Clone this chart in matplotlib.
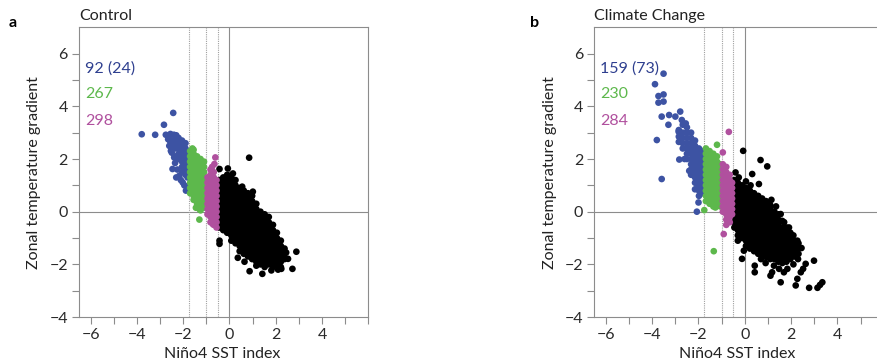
import matplotlib
matplotlib.use('Agg')
import matplotlib.pyplot as plt

plt.rcParams['font.family'] = ['Lato', 'DejaVu Sans']

# colours
blue = '#3d53a3'
green = '#5db84c'
purple = '#b0509e'
black = '#000000'

# ---- panel a (Control): points, by column (x: [y...]) plus loose points
ctrl_black_cols = {
    -0.44: [1.2, 1.0, 0.8, 0.6, 0.4, 0.2, 0.0, -0.2, -0.4, -0.6],
    -0.27: [1.3, 1.1, 0.9, 0.7, 0.5, 0.3, 0.1, -0.1, -0.3, -0.5, -0.7],
    -0.10: [1.4, 1.2, 1.0, 0.8, 0.6, 0.4, 0.2, 0.0, -0.2, -0.4, -0.6, -0.8],
    0.08: [1.3, 1.1, 0.9, 0.7, 0.5, 0.3, 0.1, -0.1, -0.3, -0.5, -0.7, -0.9, -1.1],
    0.26: [1.2, 1.0, 0.8, 0.6, 0.4, 0.2, 0.0, -0.2, -0.4, -0.6, -0.8, -1.0, -1.2],
    0.44: [0.9, 0.7, 0.5, 0.3, 0.1, -0.1, -0.3, -0.5, -0.7, -0.9, -1.1, -1.3, -1.5],
    0.62: [0.8, 0.6, 0.4, 0.2, 0.0, -0.2, -0.4, -0.6, -0.8, -1.0, -1.2, -1.4, -1.6],
    0.80: [0.7, 0.5, 0.3, 0.1, -0.1, -0.3, -0.5, -0.7, -0.9, -1.1, -1.3, -1.5, -1.7],
    0.98: [0.6, 0.4, 0.2, 0.0, -0.2, -0.4, -0.6, -0.8, -1.0, -1.2, -1.4, -1.6, -1.8],
    1.16: [0.3, 0.1, -0.1, -0.3, -0.5, -0.7, -0.9, -1.1, -1.3, -1.5, -1.7, -1.9],
    1.34: [0.0, -0.2, -0.4, -0.6, -0.8, -1.0, -1.2, -1.4, -1.6, -1.8, -2.0],
    1.52: [-0.1, -0.3, -0.5, -0.7, -0.9, -1.1, -1.3, -1.5, -1.7, -1.9, -2.1],
    1.70: [-0.2, -0.4, -0.6, -0.8, -1.0, -1.2, -1.4, -1.6, -1.8, -2.0],
    1.88: [-0.5, -0.7, -0.9, -1.1, -1.3, -1.5, -1.7, -1.9, -2.1],
    2.05: [-0.8, -1.0, -1.2, -1.4, -1.6, -1.8, -2.0],
    2.22: [-1.1, -1.3, -1.5, -1.7, -1.9, -2.1],
    2.38: [-1.4, -1.6, -1.8],
}
ctrl_black_extra = [(-0.43, 1.62), (-0.07, 1.64), (0.15, 1.45), (0.85, 2.05), (1.01, 0.76),
                    (0.55, 0.95), (-0.43, -1.1), (-0.43, -1.22), (2.89, -1.52), (2.72, -2.17),
                    (2.24, -2.17), (2.1, -2.2), (1.81, -2.23), (1.42, -2.36), (0.87, -2.26),
                    (0.36, -1.75), (0.65, -1.9), (1.16, -2.05), (2.53, -1.79), (2.45, -1.55)]

ctrl_blue_cols = {
    -2.20: [2.8, 2.6, 2.4, 2.2, 2.0],
    -2.05: [2.7, 2.5, 2.3, 2.1, 1.9, 1.7, 1.5],
    -1.90: [2.6, 2.4, 2.2, 2.0, 1.8, 1.6, 1.4],
    -1.80: [2.3, 2.1, 1.9, 1.7],
}
ctrl_blue_extra = [(-3.79, 2.94), (-3.21, 2.92), (-2.43, 3.75), (-2.83, 3.30), (-2.75, 2.92),
                   (-2.55, 2.95), (-2.40, 2.92), (-2.57, 2.69), (-2.35, 2.75), (-2.53, 2.31),
                   (-2.39, 2.06), (-2.46, 1.62), (-2.17, 1.36), (-2.02, 1.11), (-1.88, 0.80),
                   (-2.30, 2.10), (-2.40, 2.50), (-2.30, 2.90), (-2.25, 1.60), (-2.30, 1.30),
                   (-2.10, 1.20), (-1.95, 1.00), (-2.45, 2.70), (-2.62, 2.85), (-2.49, 2.24),
                   (-1.81, 1.30), (-1.78, 0.98), (-2.65, 2.75), (-2.50, 2.55), (-2.35, 2.40),
                   (-2.60, 2.50), (-2.28, 2.60), (-2.35, 1.85)]

ctrl_green_cols = {
    -1.70: [2.3, 2.1, 1.9, 1.7, 1.5, 1.3, 1.1, 0.9, 0.7],
    -1.55: [2.35, 2.2, 2.0, 1.8, 1.6, 1.4, 1.2, 1.0, 0.8, 0.6, 0.45],
    -1.40: [2.1, 1.9, 1.7, 1.5, 1.3, 1.1, 0.9, 0.7, 0.5, 0.3],
    -1.25: [2.0, 1.8, 1.6, 1.4, 1.2, 1.0, 0.8, 0.6, 0.4, 0.2, 0.05],
    -1.10: [1.9, 1.7, 1.5, 1.3, 1.1, 0.9, 0.7, 0.5, 0.3, 0.15],
}
ctrl_green_extra = [(-1.3, -0.3), (-1.45, 0.15), (-1.6, 2.4), (-1.3, 0.1), (-1.01, 0.16)]

ctrl_purple_cols = {
    -0.95: [1.3, 1.1, 0.9, 0.7, 0.5, 0.3, 0.1, -0.1],
    -0.82: [1.6, 1.4, 1.2, 1.0, 0.8, 0.6, 0.4, 0.2, 0.0, -0.2, -0.4],
    -0.68: [1.5, 1.3, 1.1, 0.9, 0.7, 0.5, 0.3, 0.1, -0.1, -0.3, -0.5],
    -0.56: [1.2, 1.0, 0.8, 0.6, 0.4, 0.2, 0.0, -0.2, -0.4, -0.6],
}
ctrl_purple_extra = [(-0.61, 2.06), (-0.65, 1.81), (-0.75, 1.70), (-0.72, -0.47)]

# ---- panel b (Climate Change)
cc_black_cols = {
    -0.45: [1.2, 1.0, 0.8, 0.6, 0.4, 0.2, 0.0, -0.2, -0.4, -0.6],
    -0.30: [1.1, 0.9, 0.7, 0.5, 0.3, 0.1, -0.1, -0.3, -0.5, -0.7, -0.9],
    -0.12: [1.0, 0.8, 0.6, 0.4, 0.2, 0.0, -0.2, -0.4, -0.6, -0.8, -1.0],
    0.05: [0.9, 0.7, 0.5, 0.3, 0.1, -0.1, -0.3, -0.5, -0.7, -0.9, -1.1, -1.3],
    0.22: [0.8, 0.6, 0.4, 0.2, 0.0, -0.2, -0.4, -0.6, -0.8, -1.0, -1.2, -1.4],
    0.40: [0.7, 0.5, 0.3, 0.1, -0.1, -0.3, -0.5, -0.7, -0.9, -1.1, -1.3, -1.5],
    0.58: [0.6, 0.4, 0.2, 0.0, -0.2, -0.4, -0.6, -0.8, -1.0, -1.2, -1.4, -1.6],
    0.75: [0.5, 0.3, 0.1, -0.1, -0.3, -0.5, -0.7, -0.9, -1.1, -1.3, -1.5, -1.65],
    0.92: [0.4, 0.2, 0.0, -0.2, -0.4, -0.6, -0.8, -1.0, -1.2, -1.4, -1.6, -1.72],
    1.10: [0.25, 0.1, -0.1, -0.3, -0.5, -0.7, -0.9, -1.1, -1.3, -1.5, -1.7, -1.8],
    1.28: [0.0, -0.2, -0.4, -0.6, -0.8, -1.0, -1.2, -1.4, -1.6, -1.8],
    1.45: [-0.1, -0.3, -0.5, -0.7, -0.9, -1.1, -1.3, -1.5, -1.7, -1.9],
    1.62: [-0.35, -0.6, -0.8, -1.0, -1.2, -1.4, -1.6, -1.8, -1.95],
    1.80: [-0.6, -0.7, -0.9, -1.1, -1.3, -1.5, -1.7, -1.9],
    1.97: [-0.8, -1.0, -1.2, -1.4, -1.6, -1.8],
    2.15: [-1.1, -1.3, -1.5, -1.7],
    2.32: [-1.2, -1.4, -1.6],
}
cc_black_extra = [(-0.07, 2.31), (0.68, 1.96), (0.97, 1.72), (-0.40, 1.49), (-0.26, 1.30),
                  (0.61, 1.05), (0.25, 1.00), (0.05, 1.15), (0.32, 1.43), (1.15, 0.45),
                  (1.35, 0.20), (1.55, -0.09), (1.70, -0.40), (1.91, -0.60), (2.10, -0.90),
                  (2.27, -1.10), (2.45, -1.38), (2.99, -1.86), (3.35, -2.68), (3.25, -2.78),
                  (3.14, -2.89), (2.78, -2.89), (2.63, -1.98), (2.52, -2.17), (2.42, -2.30),
                  (2.27, -2.55), (2.20, -2.80), (1.55, -2.68), (1.69, -2.30), (1.84, -2.17),
                  (1.18, -2.30), (1.26, -2.05), (1.48, -2.17), (1.11, -2.43), (0.43, -2.05),
                  (0.43, -2.30), (-0.12, -1.79), (-0.04, -1.48), (0.90, -1.95), (2.10, -2.00),
                  (2.30, -1.80), (0.70, -1.80), (-0.30, -1.10)]

cc_blue_cols = {
    -2.85: [3.1, 2.85, 2.65],
    -2.68: [3.3, 3.0, 2.8, 2.6, 2.4],
    -2.50: [3.2, 3.0, 2.8, 2.6, 2.4, 2.2, 2.0],
    -2.32: [3.0, 2.8, 2.6, 2.4, 2.2, 2.0, 1.8, 1.6, 1.4],
    -2.15: [2.7, 2.5, 2.3, 2.1, 1.9, 1.7, 1.5, 1.3, 1.1, 0.85],
    -1.98: [2.4, 2.2, 2.0, 1.8, 1.6, 1.4, 1.2, 1.0, 0.8, 0.6],
    -1.83: [2.3, 2.1, 1.9, 1.7, 1.5, 1.3, 1.1, 0.9, 0.7],
}
cc_blue_extra = [(-3.51, 5.24), (-3.88, 4.84), (-3.73, 4.39), (-3.51, 4.45), (-3.73, 4.14),
                 (-3.51, 4.18), (-3.59, 3.61), (-3.27, 3.67), (-3.30, 3.30), (-3.00, 3.61),
                 (-2.79, 3.80), (-2.72, 3.48), (-2.55, 3.35), (-3.80, 2.72), (-2.86, 3.04),
                 (-2.83, 1.98), (-3.59, 1.24), (-2.07, 0.00), (-2.00, 0.35), (-2.40, 1.55),
                 (-2.60, 2.00)]

cc_green_cols = {
    -1.68: [2.4, 2.2, 2.0, 1.8, 1.6, 1.4, 1.2, 1.0, 0.8, 0.6, 0.4],
    -1.52: [2.3, 2.1, 1.9, 1.7, 1.5, 1.3, 1.1, 0.9, 0.7, 0.5, 0.3],
    -1.36: [2.2, 2.0, 1.8, 1.6, 1.4, 1.2, 1.0, 0.8, 0.6, 0.4, 0.2],
    -1.20: [2.1, 1.9, 1.7, 1.5, 1.3, 1.1, 0.9, 0.7, 0.5, 0.3],
    -1.06: [1.8, 1.6, 1.4, 1.2, 1.0, 0.8, 0.6, 0.4, 0.2],
}
cc_green_extra = [(-1.20, 2.54), (-1.75, 0.06), (-1.34, -1.50), (-1.27, 0.16)]

cc_purple_cols = {
    -0.95: [1.8, 1.6, 1.4, 1.2, 1.0, 0.8, 0.6, 0.4, 0.2, 0.0],
    -0.80: [1.7, 1.5, 1.3, 1.1, 0.9, 0.7, 0.5, 0.3, 0.1, -0.1, -0.3, -0.5],
    -0.65: [1.4, 1.2, 1.0, 0.8, 0.6, 0.4, 0.2, 0.0, -0.2, -0.4],
    -0.55: [1.1, 0.9, 0.7, 0.5, 0.3, 0.1, -0.1],
}
cc_purple_extra = [(-0.69, 3.03), (-0.95, 2.25), (-0.91, -0.85)]

panel_titles = ['Control', 'Climate Change']
panel_letters = ['a', 'b']
count_labels = [['92 (24)', '267', '298'], ['159 (73)', '230', '284']]
thresholds = [-1.75, -1.0, -0.5]


def unpack(cols, extra):
    xs = [x for x, ys in cols.items() for _ in ys] + [p[0] for p in extra]
    ys = [y for ys in cols.values() for y in ys] + [p[1] for p in extra]
    return xs, ys


panels = [
    [(ctrl_black_cols, ctrl_black_extra, black), (ctrl_blue_cols, ctrl_blue_extra, blue),
     (ctrl_green_cols, ctrl_green_extra, green), (ctrl_purple_cols, ctrl_purple_extra, purple)],
    [(cc_black_cols, cc_black_extra, black), (cc_blue_cols, cc_blue_extra, blue),
     (cc_green_cols, cc_green_extra, green), (cc_purple_cols, cc_purple_extra, purple)],
]

fig = plt.figure(figsize=(8.77, 3.64), dpi=100)
axes = [fig.add_axes([0.0901, 0.129, 0.3299, 0.796]),
        fig.add_axes([0.6777, 0.129, 0.3299, 0.796])]

text_colors = ['#2e3f8f', green, purple]
gray = '#8c8c8c'
fs = 11.5

for i, ax in enumerate(axes):
    ax.axhline(0, color=gray, lw=0.8, zorder=1)
    ax.axvline(0, color=gray, lw=0.8, zorder=1)
    for t in thresholds:
        ax.axvline(t, color='#a0a0a0', lw=0.8, ls=(0, (1, 1)), zorder=1)

    for cols, extra, c in panels[i]:
        xs, ys = unpack(cols, extra)
        ax.scatter(xs, ys, s=23, color=c, edgecolors='none', zorder=2)

    for j, lab in enumerate(count_labels[i]):
        ax.text(-6.25, 5.45 - j, lab, color=text_colors[j], fontsize=fs, va='center', ha='left')

    ax.set_xlim(-6.5, 6)
    ax.set_ylim(-4, 7)
    ax.set_xticks(range(-6, 7))
    ax.set_xticklabels([str(v).replace('-', '\u2212') if v % 2 == 0 and v < 6 else '' for v in range(-6, 7)])
    ax.set_yticks(range(-4, 7))
    ax.set_yticklabels([str(v).replace('-', '\u2212') if v % 2 == 0 else '' for v in range(-4, 7)])
    ax.tick_params(direction='out', length=5, width=0.8, color=gray, labelsize=fs,
                   labelcolor='#2a2a2a', pad=3)
    for sp in ax.spines.values():
        sp.set_color(gray)
        sp.set_linewidth(0.8)

    ax.set_xlabel('Niño4 SST index', fontsize=fs, color='#222222')
    ax.set_ylabel('Zonal temperature gradient', fontsize=fs, color='#222222')
    ax.xaxis.set_label_coords(0.494, -0.105)
    ax.yaxis.set_label_coords(-0.13, 0.5)
    ax.text(0.0, 1.015, panel_titles[i], transform=ax.transAxes, fontsize=fs,
            va='bottom', ha='left', color='#222222')

fig.text(0.0148, 0.937, panel_letters[0], fontsize=11.5, fontweight='bold', va='center', ha='center')
fig.text(0.610, 0.937, panel_letters[1], fontsize=11.5, fontweight='bold', va='center', ha='center')

fig.savefig('out.png', dpi=100)
